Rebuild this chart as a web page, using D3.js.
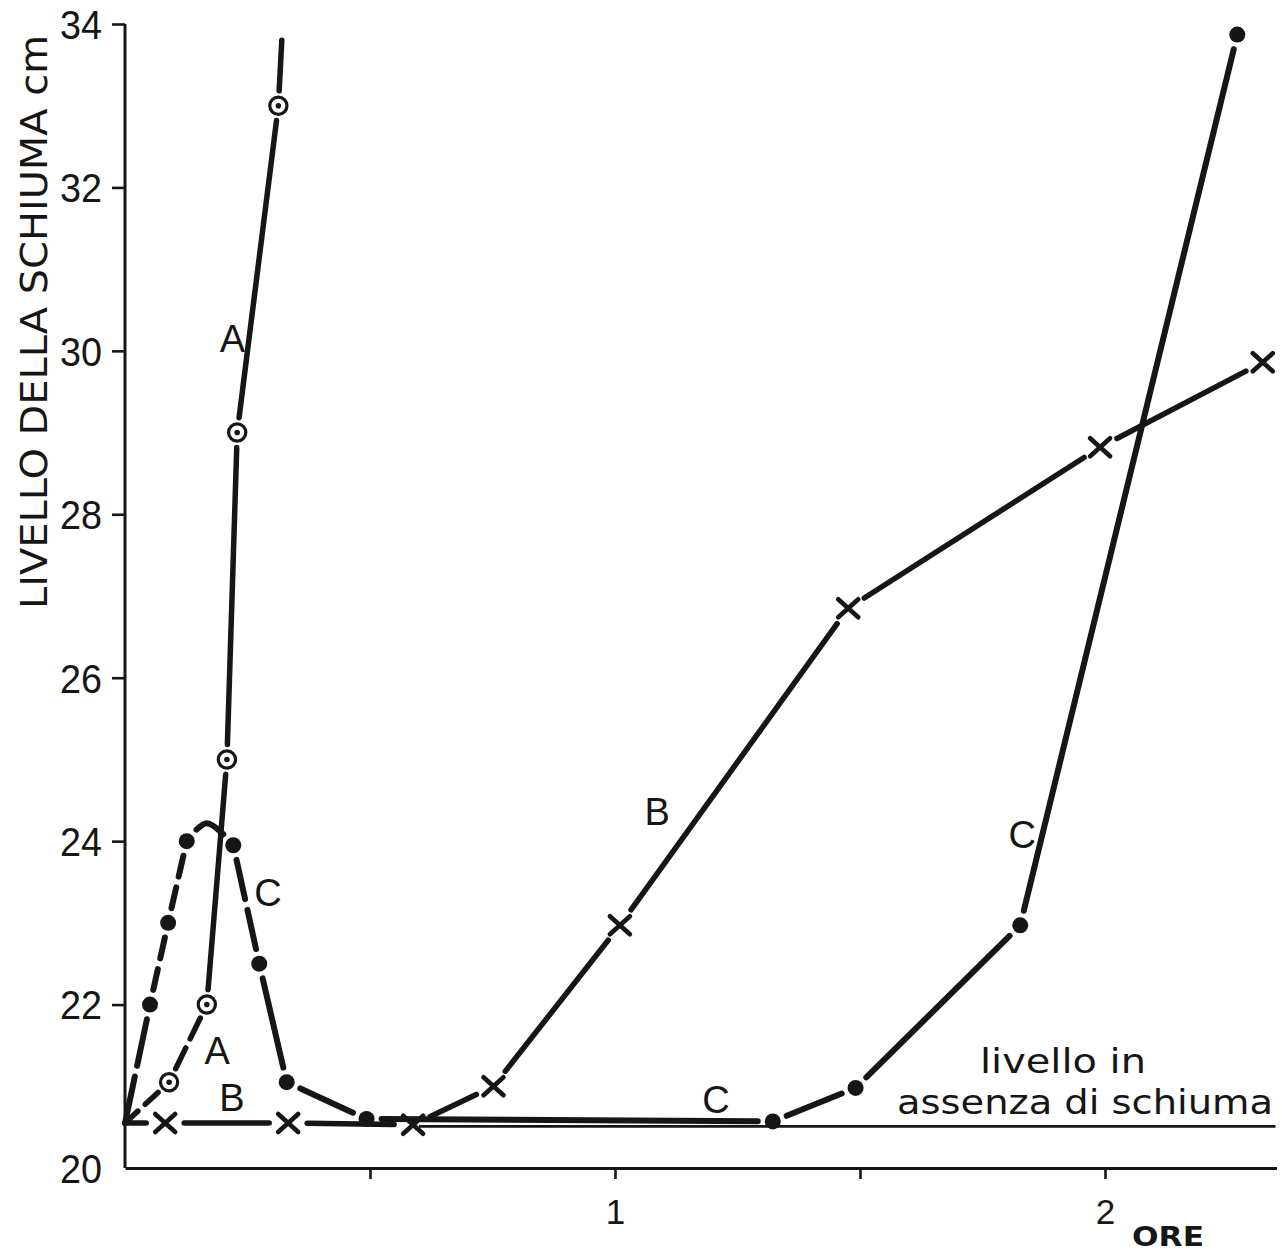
<!DOCTYPE html>
<html>
<head>
<meta charset="utf-8">
<script src="https://cdn.jsdelivr.net/npm/d3@7"></script>
<style>
  html, body { margin: 0; padding: 0; background: #ffffff; }
  svg { display: block; }
</style>
</head>
<body>
<svg id="chart" width="1282" height="1253"></svg>
<script>
// Foam level (cm) against time (hours) for three runs, A, B and C.

// Run A: open circles with a centre dot
const hoursA    = [0,     0.090, 0.167, 0.208, 0.229, 0.313, 0.320];
const levelA    = [20.55, 21.05, 22.00, 25.00, 29.00, 33.00, 33.80];
const measuredA = [false, true,  true,  true,  true,  true,  false];

// Run B: crosses
const hoursB    = [0,     0.082, 0.333, 0.588, 0.752, 1.010, 1.476, 1.990, 2.322];
const levelB    = [20.55, 20.55, 20.55, 20.53, 21.00, 22.97, 26.85, 28.82, 29.86];
const measuredB = [false, true,  true,  true,  true,  true,  true,  true,  true];

// Run C: filled dots (the unmarked point is the top of the drawn arc)
const hoursC    = [0,     0.051, 0.088, 0.126, 0.167, 0.221, 0.274, 0.330, 0.493, 1.322, 1.491, 1.827, 2.270];
const levelC    = [20.55, 22.00, 23.00, 24.00, 24.22, 23.95, 22.50, 21.05, 20.60, 20.57, 20.98, 22.97, 33.87];
const measuredC = [false, true,  true,  true,  false, true,  true,  true,  true,  true,  true,  true,  true];

// Level without foam
const baselineLevel = 20.51;
const baselineStart = 0.6;

// Axis ticks
const yTicks = [22, 24, 26, 28, 30, 32, 34];
const xTicks = [0.5, 1, 1.5, 2];
const xTickLabels = ["", "1", "", "2"];

const yTitle = "LIVELLO DELLA SCHIUMA cm";
const xUnit = "ORE";
const baselineText = ["livello in", "assenza di schiuma"];

// ---------------------------------------------------------------
const INK = "#161616";
const svg = d3.select("#chart");

const x = d3.scaleLinear().domain([0, 2.35]).range([125, 1276.5]);
const y = d3.scaleLinear().domain([20, 34]).range([1168, 24]);

// y axis
const yAxis = svg.append("g")
  .attr("transform", `translate(${x(0)},0)`)
  .call(d3.axisLeft(y).tickValues(yTicks).tickSize(13).tickSizeOuter(0).tickPadding(10)
        .tickFormat(d3.format("d")));
yAxis.select(".domain").attr("d", `M0,${y(34)}V${y(20)}`);

// "20" sits at the corner without a tick mark
const yZero = svg.append("g")
  .attr("transform", `translate(${x(0)},0)`)
  .call(d3.axisLeft(y).tickValues([20]).tickSize(0).tickPadding(23).tickFormat(d3.format("d")));
yZero.select(".domain").remove();

// x axis
const xAxis = svg.append("g")
  .attr("transform", `translate(0,${y(20)})`)
  .call(d3.axisBottom(x).tickValues(xTicks).tickSize(11).tickSizeOuter(0)
        .tickFormat((d, i) => xTickLabels[i]));

[yAxis, yZero, xAxis].forEach(g => {
  g.select(".domain").attr("stroke", INK).attr("stroke-width", 3);
  g.selectAll(".tick line").attr("stroke", INK).attr("stroke-width", 2.6);
});
[yAxis, yZero].forEach(g => {
  g.selectAll(".tick text")
    .attr("fill", INK)
    .attr("font-family", "'Liberation Sans', Arial, sans-serif")
    .attr("font-size", 40)
    .attr("textLength", 42)
    .attr("lengthAdjust", "spacingAndGlyphs")
    .attr("dy", "0.36em");
});
xAxis.selectAll(".tick text")
  .attr("fill", INK)
  .attr("font-family", "'Liberation Sans', Arial, sans-serif")
  .attr("font-size", 35)
  .attr("y", 43)
  .attr("dy", "0.36em");

// axis title
svg.append("text")
  .attr("transform", `translate(34,322) rotate(-90)`)
  .attr("text-anchor", "middle")
  .attr("dy", "0.36em")
  .attr("fill", INK)
  .attr("font-family", "'DejaVu Sans', sans-serif")
  .attr("font-size", 37)
  .attr("textLength", 574)
  .attr("lengthAdjust", "spacingAndGlyphs")
  .text(yTitle);

svg.append("text")
  .attr("x", 1168).attr("y", 1246)
  .attr("text-anchor", "middle")
  .attr("fill", INK)
  .attr("font-family", "'DejaVu Sans', sans-serif")
  .attr("font-weight", "bold")
  .attr("font-size", 26)
  .attr("textLength", 72)
  .attr("lengthAdjust", "spacingAndGlyphs")
  .text(xUnit);

// level without foam
svg.append("line")
  .attr("x1", x(baselineStart)).attr("x2", x.range()[1] - 1)
  .attr("y1", y(baselineLevel)).attr("y2", y(baselineLevel))
  .attr("stroke", INK).attr("stroke-width", 2.6);

const noteFont = "'DejaVu Sans Condensed', 'DejaVu Sans', sans-serif";
svg.append("text")
  .attr("x", 1063).attr("y", 1073)
  .attr("text-anchor", "middle")
  .attr("fill", INK)
  .attr("font-family", noteFont)
  .attr("font-size", 33)
  .attr("textLength", 166)
  .attr("lengthAdjust", "spacingAndGlyphs")
  .text(baselineText[0]);
svg.append("text")
  .attr("x", 1085).attr("y", 1114)
  .attr("text-anchor", "middle")
  .attr("fill", INK)
  .attr("font-family", noteFont)
  .attr("font-size", 33)
  .attr("textLength", 376)
  .attr("lengthAdjust", "spacingAndGlyphs")
  .text(baselineText[1]);

// ---------------------------------------------------------------
// Each series is drawn as runs between measured points, leaving a gap
// round every marker; some runs are broken into several dashes.
const lineGen = d3.line().x(d => x(d.t)).y(d => y(d.v)).curve(d3.curveCatmullRom.alpha(0.5));

function buildPoints(hours, levels, measured) {
  return hours.map((t, i) => ({ t, v: levels[i], m: measured[i] }));
}

function drawRuns(g, pts, pieces, opts) {
  const runs = [];
  let cur = [pts[0]];
  for (let i = 1; i < pts.length; i++) {
    cur.push(pts[i]);
    if (pts[i].m || i === pts.length - 1) { runs.push(cur); cur = [pts[i]]; }
  }
  runs.forEach((run, k) => {
    const path = g.append("path")
      .attr("d", lineGen(run))
      .attr("fill", "none")
      .attr("stroke", INK)
      .attr("stroke-width", opts.width)
      .attr("stroke-linecap", "round");
    const L = path.node().getTotalLength();
    const g0 = run[0].m ? opts.gap : 0;
    const g1 = run[run.length - 1].m ? opts.gap : 0;
    const n = pieces[k] || 1;
    const h = opts.inner;
    const piece = Math.max(1, (L - g0 - g1 - (n - 1) * h) / n);
    const pattern = [];
    for (let j = 0; j < n; j++) {
      pattern.push(piece);
      pattern.push(j < n - 1 ? h : g1 + g0 + 2);
    }
    path.attr("stroke-dasharray", pattern.join(" "))
        .attr("stroke-dashoffset", -g0);
  });
}

const ptsA = buildPoints(hoursA, levelA, measuredA);
const ptsB = buildPoints(hoursB, levelB, measuredB);
const ptsC = buildPoints(hoursC, levelC, measuredC);

const gLines = svg.append("g");
drawRuns(gLines, ptsC, [2, 2, 2, 1, 2, 1, 1, 1, 1, 1, 1], { width: 6, gap: 15, inner: 11 });
drawRuns(gLines, ptsB, [1, 1, 1, 1, 1, 1, 1, 1], { width: 5.5, gap: 19, inner: 10 });
drawRuns(gLines, ptsA, [2, 2, 1, 1, 1, 1], { width: 5.5, gap: 15, inner: 10 });

// markers
const gMarks = svg.append("g");
gMarks.selectAll("circle.dot")
  .data(ptsC.filter(d => d.m))
  .join("circle")
  .attr("class", "dot")
  .attr("cx", d => x(d.t)).attr("cy", d => y(d.v))
  .attr("r", 8)
  .attr("fill", INK);

const ring = gMarks.selectAll("g.ring")
  .data(ptsA.filter(d => d.m))
  .join("g")
  .attr("class", "ring")
  .attr("transform", d => `translate(${x(d.t)},${y(d.v)})`);
ring.append("circle").attr("r", 8.6).attr("fill", "#fff").attr("stroke", INK).attr("stroke-width", 3.2);
ring.append("circle").attr("r", 2.8).attr("fill", INK);

const cross = gMarks.selectAll("g.cross")
  .data(ptsB.filter(d => d.m))
  .join("g")
  .attr("class", "cross")
  .attr("transform", d => `translate(${x(d.t)},${y(d.v)})`);
cross.append("path")
  .attr("d", "M-10,-9L10,9M-10,9L10,-9")
  .attr("stroke", INK).attr("stroke-width", 4.6).attr("stroke-linecap", "round");

// curve letters
const curveLabels = [
  { s: "A", t: 0.219, v: 30.15 }, { s: "A", t: 0.188, v: 21.44 },
  { s: "B", t: 1.086, v: 24.36 }, { s: "B", t: 0.218, v: 20.87 },
  { s: "C", t: 0.292, v: 23.37 }, { s: "C", t: 1.206, v: 20.84 },
  { s: "C", t: 1.831, v: 24.08 }
];
svg.append("g").selectAll("text")
  .data(curveLabels)
  .join("text")
  .attr("x", d => x(d.t)).attr("y", d => y(d.v))
  .attr("text-anchor", "middle")
  .attr("dy", "0.36em")
  .attr("fill", INK)
  .attr("font-family", "'Liberation Sans', Arial, sans-serif")
  .attr("font-size", 38)
  .text(d => d.s);
</script>
</body>
</html>
